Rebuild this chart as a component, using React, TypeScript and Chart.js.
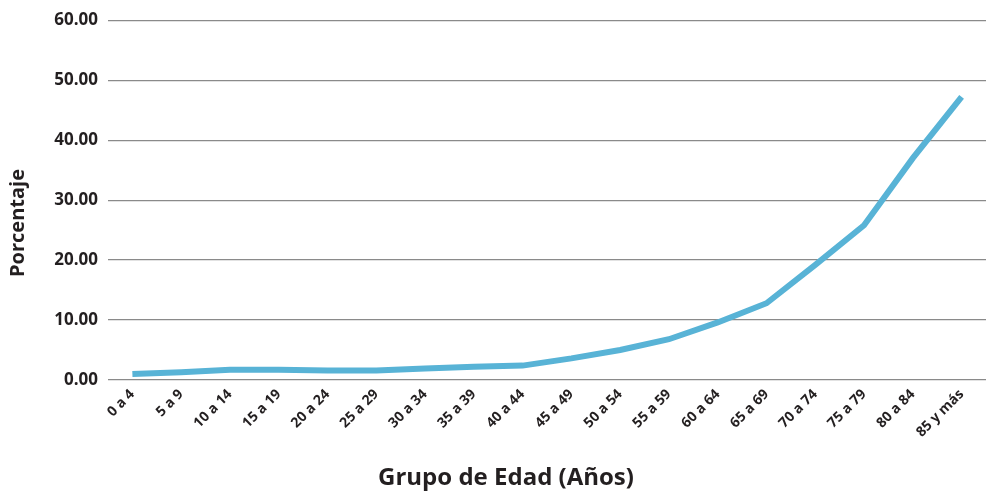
import React, { useEffect, useRef } from "react";
import { Chart, registerables } from "chart.js";

Chart.register(...registerables);

const categories = [
  "0 a 4", "5 a 9", "10 a 14", "15 a 19", "20 a 24", "25 a 29", "30 a 34", "35 a 39",
  "40 a 44", "45 a 49", "50 a 54", "55 a 59", "60 a 64", "65 a 69", "70 a 74", "75 a 79",
  "80 a 84", "85 y más",
];
const porcentaje = [1.0, 1.3, 1.7, 1.7, 1.6, 1.6, 1.9, 2.2, 2.4, 3.6, 5.0, 6.8, 9.6, 12.8, 19.2, 25.8, 37.0, 47.2];
const yTicks = [0, 10, 20, 30, 40, 50, 60];
const yTitle = "Porcentaje";
const xTitle = "Grupo de Edad (Años)";

const FONT = "'Open Sans', Lato, sans-serif";
const INK = "#231f20";

const titlesPlugin = {
  id: "customTitles",
  afterDraw(chart: any) {
    const ctx = chart.ctx;
    ctx.save();
    ctx.fillStyle = INK;
    ctx.font = `bold 24px ${FONT}`;
    ctx.textAlign = "center";
    ctx.textBaseline = "middle";
    ctx.fillText(xTitle, 506, 478);
    ctx.translate(18, 223);
    ctx.rotate(-Math.PI / 2);
    ctx.font = `bold 20px ${FONT}`;
    ctx.fillText(yTitle, 0, 0);
    ctx.restore();
  },
};

export default function App() {
  const ref = useRef<HTMLCanvasElement>(null);
  useEffect(() => {
    if (!ref.current) return;
    const chart = new Chart(ref.current, {
      type: "line",
      data: {
        labels: categories,
        datasets: [
          {
            data: porcentaje,
            borderColor: "#58b3d6",
            borderWidth: 6,
            pointRadius: 0,
            tension: 0,
            fill: false,
          },
        ],
      },
      options: {
        responsive: true,
        maintainAspectRatio: false,
        animation: false,
        layout: { padding: { top: 18, right: 0, left: 0, bottom: 0 } },
        plugins: { legend: { display: false }, tooltip: { enabled: false } },
        scales: {
          x: {
            offset: true,
            grid: { display: false, drawTicks: false },
            border: { display: false },
            ticks: {
              color: INK,
              font: { family: FONT, size: 14, weight: "bold" },
              maxRotation: 45,
              minRotation: 45,
              autoSkip: false,
              padding: 6,
            },
            afterFit(scale: any) {
              scale.height = 111;
            },
          },
          y: {
            min: 0,
            max: 60,
            afterBuildTicks(scale: any) {
              scale.ticks = yTicks.map((v) => ({ value: v }));
            },
            grid: { color: "#8a8a8a", lineWidth: 1.2, drawTicks: false },
            border: { display: false },
            ticks: {
              color: INK,
              font: { family: FONT, size: 17, weight: "bold" },
              padding: 10,
              callback: (v: any) => Number(v).toFixed(2),
            },
            afterFit(scale: any) {
              scale.width = 108;
            },
          },
        },
      },
      plugins: [titlesPlugin],
    });
    return () => chart.destroy();
  }, []);
  return (
    <div style={{ position: "absolute", left: 0, top: 0, width: 986, height: 491, background: "#fff" }}>
      <canvas ref={ref} />
    </div>
  );
}
